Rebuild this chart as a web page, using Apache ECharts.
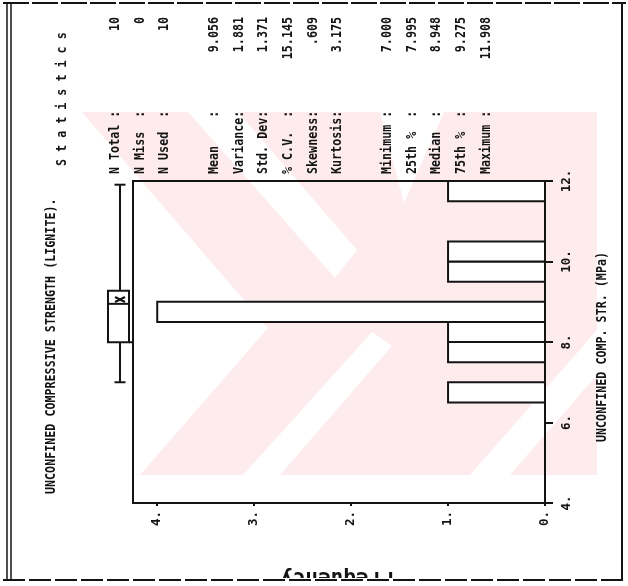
<!DOCTYPE html>
<html>
<head>
<meta charset="utf-8">
<script src="https://cdn.jsdelivr.net/npm/echarts@6/dist/echarts.min.js"></script>
<style>
  html, body { margin: 0; padding: 0; background: #fff; }
  #chart { width: 628px; height: 586px; }
</style>
</head>
<body>
<div id="chart"></div>
<script>
// Histogram of unconfined compressive strength (MPa), bins of 0.5
const binStarts = [6.5, 7.5, 8.0, 8.5, 9.5, 10.0, 11.5];
const binWidth = 0.5;
const binCounts = [1, 1, 1, 4, 1, 1, 1];
const valueTicks = [4, 6, 8, 10, 12];
const freqTicks = [0, 1, 2, 3, 4];

// Box plot summary: min, 25th, median, 75th, max, and the mean
const boxStats = [7.000, 7.995, 8.948, 9.275, 11.908];
const meanValue = 9.056;

// Statistics block (empty entries are blank rows)
const statLabels = ['N Total :', 'N Miss  :', 'N Used  :', '',
  'Mean    :', 'Variance:', 'Std. Dev:', '% C.V.  :', 'Skewness:', 'Kurtosis:', '',
  'Minimum :', '25th %  :', 'Median  :', '75th %  :', 'Maximum :'];
const statValues = ['10', '0', '10', '',
  '9.056', '1.881', '1.371', '15.145', '.609', '3.175', '',
  '7.000', '7.995', '8.948', '9.275', '11.908'];

const titleText = 'UNCONFINED COMPRESSIVE STRENGTH (LIGNITE).';
const statsHeading = 'S t a t i s t i c s';
const valueAxisName = 'UNCONFINED COMP. STR. (MPa)';
const freqAxisName = 'Frequency';

const INK = '#141414';
const MONO = '"DejaVu Sans Mono", "Liberation Mono", monospace';
const PINK = '#fdebee';

const chart = echarts.init(document.getElementById('chart'), null, { renderer: 'canvas' });

// text turned a quarter-turn, read from bottom to top; scaleY makes the glyphs a little taller
function vtext(x, y, text, align, size) {
  return {
    type: 'text', x: x, y: y, rotation: Math.PI / 2, scaleY: 1.15, z: 20,
    style: {
      text: text, fill: INK, font: 'bold ' + size + 'px ' + MONO,
      align: align, verticalAlign: 'middle', textAlign: align, textVerticalAlign: 'middle'
    }
  };
}

const graphics = [];

// faint diagonal-striped watermark behind the plot
graphics.push({ type: 'polygon', z: -5, shape: { points: [[82, 112], [597, 112], [597, 475], [140, 475], [268, 328]] }, style: { fill: PINK } });
graphics.push({ type: 'polygon', z: -4, shape: { points: [[188, 112], [238, 112], [357, 250], [335, 278]] }, style: { fill: '#fff' } });
graphics.push({ type: 'polygon', z: -4, shape: { points: [[380, 112], [444, 112], [404, 203]] }, style: { fill: '#fff' } });
graphics.push({ type: 'polygon', z: -4, shape: { points: [[243, 475], [280, 475], [392, 346], [372, 332]] }, style: { fill: '#fff' } });
graphics.push({ type: 'polygon', z: -4, shape: { points: [[470, 475], [510, 475], [597, 375], [597, 330]] }, style: { fill: '#fff' } });

// title and heading
graphics.push(vtext(52, 494, titleText, 'left', 11.7));
graphics.push(vtext(63, 166, statsHeading, 'left', 11.7));

// statistics rows
statLabels.forEach(function (lab, i) {
  if (!lab) return;
  const x = 115.5 + i * 24.72;
  graphics.push(vtext(x, 174, lab, 'left', 11.7));
  graphics.push(vtext(x, 17, statValues[i], 'right', 11.7));
});

// value-axis title
graphics.push(vtext(603, 442, valueAxisName, 'left', 11.7));

// frequency-axis title, upside down and trimmed by the page edge
graphics.push({
  type: 'text', x: 337, y: 567, rotation: Math.PI, z: 20,
  style: { text: freqAxisName, fill: INK, font: 'bold 21px ' + MONO, align: 'center', verticalAlign: 'bottom', textAlign: 'center', textVerticalAlign: 'bottom' }
});
graphics.push({ type: 'rect', z: 21, shape: { x: 0, y: 578, width: 628, height: 8 }, style: { fill: '#fff' } });

// page border
const border = { stroke: INK, lineWidth: 2 };
graphics.push({ type: 'line', z: 22, shape: { x1: 3, y1: 3, x2: 626, y2: 3 }, style: Object.assign({ lineDash: [26, 3] }, border) });
graphics.push({ type: 'line', z: 22, shape: { x1: 3, y1: 580, x2: 626, y2: 580 }, style: Object.assign({ lineDash: [22, 4] }, border) });
graphics.push({ type: 'line', z: 22, shape: { x1: 7, y1: 3, x2: 7, y2: 581 }, style: { stroke: INK, lineWidth: 1.5 } });
graphics.push({ type: 'line', z: 22, shape: { x1: 11, y1: 3, x2: 11, y2: 581 }, style: { stroke: INK, lineWidth: 1.5 } });
graphics.push({ type: 'line', z: 22, shape: { x1: 622, y1: 3, x2: 622, y2: 581 }, style: { stroke: INK, lineWidth: 2 } });

function renderBar(params, api) {
  const lo = api.value(0), hi = api.value(1), n = api.value(2);
  const top = api.coord([n, hi]);
  const base = api.coord([0, lo]);
  const x = Math.min(top[0], base[0]);
  return {
    type: 'rect',
    shape: { x: x, y: top[1], width: Math.abs(base[0] - top[0]), height: base[1] - top[1] },
    style: { fill: '#fff', stroke: INK, lineWidth: 2 }
  };
}

function renderBox(params, api) {
  const cs = params.coordSys;
  const yOf = function (v) { return api.coord([0, v])[1]; };
  const left = cs.x - 25, right = cs.x - 4, mid = cs.x - 13;
  const yMin = yOf(api.value(1)), yQ1 = yOf(api.value(2)), yMed = yOf(api.value(3));
  const yQ3 = yOf(api.value(4)), yMax = yOf(api.value(5)), yMean = yOf(api.value(6));
  const st = { stroke: INK, lineWidth: 2, fill: null };
  return {
    type: 'group', children: [
      { type: 'line', shape: { x1: mid, y1: yMax, x2: mid, y2: yQ3 }, style: st },
      { type: 'line', shape: { x1: mid - 5.5, y1: yMax, x2: mid + 5.5, y2: yMax }, style: st },
      { type: 'line', shape: { x1: mid, y1: yQ1, x2: mid, y2: yMin }, style: st },
      { type: 'line', shape: { x1: mid - 5.5, y1: yMin, x2: mid + 5.5, y2: yMin }, style: st },
      { type: 'rect', shape: { x: left, y: yQ3, width: right - left, height: yQ1 - yQ3 }, style: { fill: '#fff', stroke: INK, lineWidth: 2 } },
      { type: 'line', shape: { x1: left, y1: yMed, x2: right, y2: yMed }, style: st },
      { type: 'line', shape: { x1: right, y1: yQ1, x2: cs.x, y2: yQ1 }, style: st },
      { type: 'line', shape: { x1: mid - 5, y1: yMean - 2.5, x2: mid + 5, y2: yMean + 2.5 }, style: st },
      { type: 'line', shape: { x1: mid - 5, y1: yMean + 2.5, x2: mid + 5, y2: yMean - 2.5 }, style: st }
    ]
  };
}

const labelFont = { fontFamily: MONO, fontWeight: 'bold', fontSize: 12.5, color: INK };

chart.setOption({
  animation: false,
  backgroundColor: '#fff',
  grid: { left: 133, top: 181, width: 412, height: 322, show: true, borderColor: INK, borderWidth: 2, backgroundColor: 'transparent' },
  xAxis: {
    type: 'value', inverse: true, min: 0, max: 4.25, position: 'bottom',
    splitLine: { show: false },
    axisLine: { show: true, onZero: false, lineStyle: { color: INK, width: 2 } },
    axisTick: { show: true, length: 3, customValues: freqTicks, lineStyle: { color: INK, width: 2 } },
    axisLabel: Object.assign({ customValues: freqTicks, rotate: 90, margin: 8, formatter: function (v) { return v + '.'; } }, labelFont)
  },
  yAxis: {
    type: 'value', min: 4, max: 12, interval: 2, position: 'right',
    splitLine: { show: false },
    axisLine: { show: true, onZero: false, lineStyle: { color: INK, width: 2 } },
    axisTick: { show: true, length: 8, customValues: valueTicks, lineStyle: { color: INK, width: 2 } },
    axisLabel: Object.assign({ customValues: valueTicks, rotate: 90, margin: 15, formatter: function (v) { return v + '.'; } }, labelFont)
  },
  graphic: { elements: graphics },
  series: [
    {
      type: 'custom', name: 'histogram', coordinateSystem: 'cartesian2d', z: 5,
      renderItem: renderBar,
      encode: { x: 2, y: [0, 1] },
      data: binStarts.map(function (s, i) { return [s, s + binWidth, binCounts[i]]; })
    },
    {
      type: 'custom', name: 'box', coordinateSystem: 'cartesian2d', z: 5, clip: false,
      renderItem: renderBox,
      encode: { x: 0, y: [1, 2, 3, 4, 5, 6] },
      data: [[0].concat(boxStats, [meanValue])]
    }
  ]
});
</script>
</body>
</html>
